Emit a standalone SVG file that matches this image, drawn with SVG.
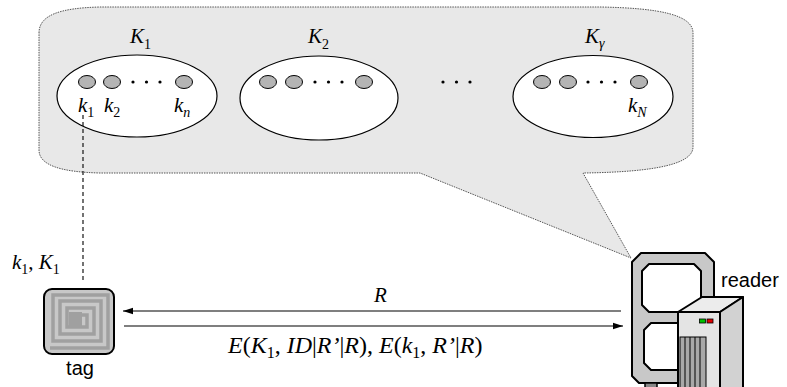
<svg xmlns="http://www.w3.org/2000/svg" width="787" height="387" viewBox="0 0 787 387">
  <style>
    .math { font-family: "Liberation Serif", "Times New Roman", serif; font-size: 21px; fill: #000; }
    .big { font-size: 24px; }
    .it { font-style: italic; }
    .sub { font-size: 14px; font-style: normal; }
    .big .sub { font-size: 16px; }
    .sub.it { font-style: italic; }
    .sans { font-family: "Liberation Sans", Arial, sans-serif; font-size: 20px; fill: #000; }
    .group { fill: #fff; stroke: #000; stroke-width: 1.2; }
    .key { fill: #b4b4b4; stroke: #000; stroke-width: 1; }
    .conn { stroke: #000; stroke-width: 1.2; fill: none; }
    .frame { fill: #c8c8c8; stroke: #000; stroke-width: 2; stroke-linejoin: round; }
    .hole { fill: #fff; stroke: #000; stroke-width: 2; stroke-linejoin: round; }
  </style>
  <defs>
    <marker id="arrow" viewBox="0 0 10 10" refX="10" refY="5" markerWidth="10" markerHeight="8" markerUnits="userSpaceOnUse" orient="auto" preserveAspectRatio="none">
      <path d="M0,1 L10,5 L0,9 Z" fill="#000"/>
    </marker>
    <g id="dots">
      <circle cx="0" cy="0" r="1.6" fill="#000"/>
      <circle cx="13.5" cy="0" r="1.6" fill="#000"/>
      <circle cx="27" cy="0" r="1.6" fill="#000"/>
    </g>
  </defs>

  <!-- key store callout -->
  <g id="keystore">
    <path d="M39,33 C39,15 60,8 100,7 L600,7 C660,8 693,15 693,33 L693,147 C693,163 660,172 583,173 L631,258 L420,173 L100,173 C60,172 39,165 39,150 Z"
          fill="#e8e8e8" stroke="#555" stroke-width="1" stroke-dasharray="1.5 1"/>
  </g>

  <!-- key group K1 -->
  <g id="group1">
    <ellipse class="group" cx="137" cy="96" rx="80" ry="41"/>
    <ellipse class="key" cx="87" cy="82" rx="8.5" ry="6.5"/>
    <ellipse class="key" cx="112" cy="82" rx="8.5" ry="6.5"/>
    <ellipse class="key" cx="184" cy="82" rx="8.5" ry="6.5"/>
    <use href="#dots" x="133" y="82"/>
    <text class="math" x="130" y="43"><tspan class="it">K</tspan><tspan class="sub" dy="6">1</tspan></text>
    <text class="math" x="78" y="112"><tspan class="it">k</tspan><tspan class="sub" dy="5">1</tspan></text>
    <text class="math" x="104" y="112"><tspan class="it">k</tspan><tspan class="sub" dy="5">2</tspan></text>
    <text class="math" x="174" y="112"><tspan class="it">k</tspan><tspan class="sub it" dy="5">n</tspan></text>
  </g>

  <!-- key group K2 -->
  <g id="group2">
    <ellipse class="group" cx="319" cy="98" rx="79" ry="42"/>
    <ellipse class="key" cx="268" cy="82" rx="8.5" ry="6.5"/>
    <ellipse class="key" cx="294" cy="82" rx="8.5" ry="6.5"/>
    <ellipse class="key" cx="364" cy="82" rx="8.5" ry="6.5"/>
    <use href="#dots" x="315" y="82"/>
    <text class="math" x="308" y="43"><tspan class="it">K</tspan><tspan class="sub" dy="6">2</tspan></text>
  </g>

  <!-- ellipsis between groups -->
  <use href="#dots" x="443" y="82"/>

  <!-- key group K gamma -->
  <g id="groupN">
    <ellipse class="group" cx="593" cy="96.5" rx="80" ry="41"/>
    <ellipse class="key" cx="542" cy="82" rx="8.5" ry="6.5"/>
    <ellipse class="key" cx="568" cy="82" rx="8.5" ry="6.5"/>
    <ellipse class="key" cx="639" cy="82" rx="8.5" ry="6.5"/>
    <use href="#dots" x="588" y="82"/>
    <text class="math" x="585" y="43"><tspan class="it">K</tspan><tspan class="sub it" dy="5">γ</tspan></text>
    <text class="math" x="628" y="112"><tspan class="it">k</tspan><tspan class="sub it" dy="5">N</tspan></text>
  </g>

  <!-- tag -->
  <g id="tag">
    <rect x="44" y="289" width="70" height="65" rx="8" fill="#c8c8c8" stroke="#000" stroke-width="2"/>
    <path d="M50,348 H108 V295 H53 V341 H101 V301 H60 V334 H94 V308 H67 V327 H87 V315 H73"
          fill="none" stroke="#a0a0a0" stroke-width="3.5"/>
    <rect x="69" y="312" width="13" height="16" fill="#a0a0a0"/>
    <text class="sans" x="80" y="375" text-anchor="middle" font-size="19">tag</text>
    <text class="math" x="12" y="269" font-size="23"><tspan class="it">k</tspan><tspan class="sub" font-size="15" dy="5">1</tspan><tspan dy="-5">, </tspan><tspan class="it">K</tspan><tspan class="sub" font-size="15" dy="5">1</tspan></text>
  </g>

  <!-- reader -->
  <g id="reader">
    <path class="frame" d="M641,253 H705 L714,262 V376 L707,383 H639 L632,376 V262 Z"/>
    <rect x="645" y="383" width="12" height="6" fill="#888" stroke="#000" stroke-width="1.5"/>
    <path class="hole" d="M649,264 H694 L701,271 V305 L694,312 H649 L642,305 V271 Z"/>
    <path class="hole" d="M651,323 H700 V370 H651 L644,363 V330 Z"/>
    <!-- server cabinet -->
    <polygon points="678,312 702,297 743,297 720,312" fill="#ececec" stroke="#000" stroke-width="2" stroke-linejoin="round"/>
    <polygon points="720,312 743,297 743,392 720,392" fill="#d2d2d2" stroke="#000" stroke-width="2" stroke-linejoin="round"/>
    <rect x="678" y="312" width="42" height="80" fill="#e4e4e4" stroke="#000" stroke-width="2"/>
    <rect x="680" y="337" width="26" height="55" fill="#a8a8a8" stroke="#000" stroke-width="1"/>
    <path d="M685,337 V392 M690,337 V392 M695,337 V392 M700,337 V392" stroke="#000" stroke-width="1"/>
    <rect x="699.5" y="319" width="6" height="4" fill="#00c000" stroke="#000" stroke-width="0.8"/>
    <rect x="707" y="319" width="6" height="4" fill="#e00000" stroke="#000" stroke-width="0.8"/>
    <text class="sans" x="721" y="287">reader</text>
  </g>

  <!-- connectors -->
  <g id="connectors">
    <line x1="83" y1="115" x2="83" y2="282" stroke="#000" stroke-width="1.1" stroke-dasharray="4 3"/>
    <line class="conn" x1="621" y1="311" x2="123" y2="311" marker-end="url(#arrow)"/>
    <line class="conn" x1="124" y1="326" x2="623" y2="326" marker-end="url(#arrow)"/>
    <text class="math it" x="374" y="302">R</text>
    <text class="math big" x="228" y="353"><tspan class="it">E</tspan>(<tspan class="it">K</tspan><tspan class="sub" dy="5">1</tspan><tspan dy="-5">, </tspan><tspan class="it">ID</tspan>|<tspan class="it">R’</tspan>|<tspan class="it">R</tspan>), <tspan class="it">E</tspan>(<tspan class="it">k</tspan><tspan class="sub" dy="5">1</tspan><tspan dy="-5">, </tspan><tspan class="it">R’</tspan>|<tspan class="it">R</tspan>)</text>
  </g>
</svg>
